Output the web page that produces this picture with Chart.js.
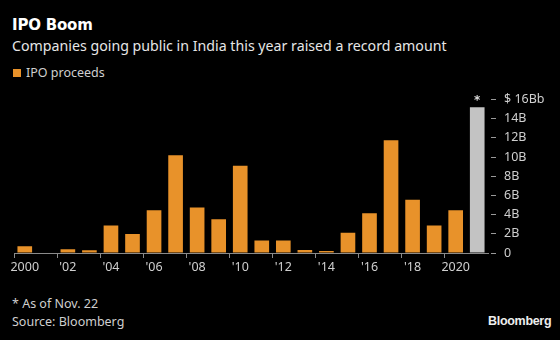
<!DOCTYPE html>
<html>
<head>
<meta charset="utf-8">
<script src="https://cdn.jsdelivr.net/npm/chart.js@4/dist/chart.umd.min.js"></script>
<style>
  html, body { margin:0; padding:0; background:#000; }
  body { width:560px; height:340px; position:relative; overflow:hidden; font-family:"Noto Sans", sans-serif; }
  .t { position:absolute; white-space:nowrap; }
  #title { left:12px; top:16px; font-size:15px; font-weight:bold; color:#fff; font-family:"DejaVu Sans", sans-serif; letter-spacing:-0.2px; }
  #subtitle { left:12px; top:36px; font-size:14.2px; color:#e6e6e6; }
  #legend { left:13px; top:64px; font-size:12.5px; color:#cfcfcf; }
  #legend span.sw { display:inline-block; width:8px; height:8px; background:#E8922A; margin-right:5px; vertical-align:0px; }
  #note { left:12px; top:295px; font-size:12.5px; color:#cfcfcf; }
  #source { left:12px; top:313px; font-size:12.5px; color:#cfcfcf; }
  #logo { left:488px; top:314px; font-size:12.5px; font-weight:bold; color:#eee; font-family:"Liberation Sans", sans-serif; letter-spacing:-0.3px; }
  #wrap { position:absolute; left:0; top:85px; width:560px; height:195px; }
</style>
</head>
<body>
<div class="t" id="title">IPO Boom</div>
<div class="t" id="subtitle">Companies going public in India this year raised a record amount</div>
<div class="t" id="legend"><span class="sw"></span>IPO proceeds</div>
<div class="t" id="note">* As of Nov. 22</div>
<div class="t" id="source">Source: Bloomberg</div>
<div class="t" id="logo">Bloomberg</div>
<div id="wrap"><canvas id="c" width="560" height="195"></canvas></div>
<script>
const years = ["2000","2001","2002","2003","2004","2005","2006","2007","2008","2009","2010",
               "2011","2012","2013","2014","2015","2016","2017","2018","2019","2020","2021"];
const xTickLabels = {"2000":"2000","2002":"'02","2004":"'04","2006":"'06","2008":"'08","2010":"'10",
                     "2012":"'12","2014":"'14","2016":"'16","2018":"'18","2020":"2020"};
const proceeds = [0.7,0.05,0.4,0.28,2.87,1.97,4.45,10.2,4.73,3.52,9.09,
                  1.31,1.31,0.31,0.22,2.1,4.15,11.74,5.56,2.87,4.46,15.2];
const yTickLabels = {0:"0",2:"2B",4:"4B",6:"6B",8:"8B",10:"10B",12:"12B",14:"14B",16:"$ 16Bb"};
const partialYear = "2021";
const ORANGE = "#E8922A", GREY_BAR = "#C3C3C3";

const asteriskPlugin = {
  id: "asterisk",
  afterDatasetsDraw(chart) {
    const meta = chart.getDatasetMeta(0);
    const idx = years.indexOf(partialYear);
    const el = meta.data[idx];
    const ctx = chart.ctx;
    ctx.save();
    ctx.fillStyle = "#dcdcdc";
    ctx.font = "bold 12px 'DejaVu Sans'";
    ctx.textAlign = "center";
    ctx.textBaseline = "middle";
    ctx.fillText("*", el.x, chart.scales.y.getPixelForValue(16) + 1);
    ctx.restore();
  }
};

new Chart(document.getElementById("c"), {
  type: "bar",
  data: {
    labels: years,
    datasets: [{
      label: "IPO proceeds",
      data: proceeds,
      backgroundColor: years.map(y => y === partialYear ? GREY_BAR : ORANGE),
      categoryPercentage: 1,
      barPercentage: 0.68,
      borderWidth: 0
    }]
  },
  options: {
    responsive: false,
    animation: false,
    devicePixelRatio: 1,
    layout: { padding: { left: 14, top: 14, right: 0, bottom: 0 } },
    plugins: { legend: { display: false }, tooltip: { enabled: false } },
    scales: {
      x: {
        offset: true,
        grid: {
          display: true,
          drawOnChartArea: false,
          tickLength: 5,
          tickColor: (ctx) => (ctx.index % 2 === 0 && ctx.index < 21) ? "#8a8a8a" : "rgba(0,0,0,0)",
          lineWidth: 1
        },
        border: { display: true, color: "#8a8a8a", width: 1 },
        ticks: {
          autoSkip: false,
          maxRotation: 0,
          padding: 2,
          color: "#cfcfcf",
          font: { family: "Noto Sans", size: 12.5 },
          callback: function(v, i) { return xTickLabels[years[i]] || ""; }
        },
        afterFit(scale) { scale.height = 27; }
      },
      y: {
        position: "right",
        min: 0, max: 16,
        grid: {
          display: true,
          drawOnChartArea: false,
          tickLength: 9,
          tickColor: "#9a9a9a",
          tickBorderDash: [0, 3, 5, 100]
        },
        border: { display: false },
        ticks: {
          stepSize: 2,
          padding: 7,
          color: "#cfcfcf",
          font: { family: "Noto Sans", size: 12.5 },
          callback: (v) => yTickLabels[v]
        },
        afterFit(scale) { scale.width = 72; }
      }
    }
  },
  plugins: [asteriskPlugin]
});
</script>
</body>
</html>
